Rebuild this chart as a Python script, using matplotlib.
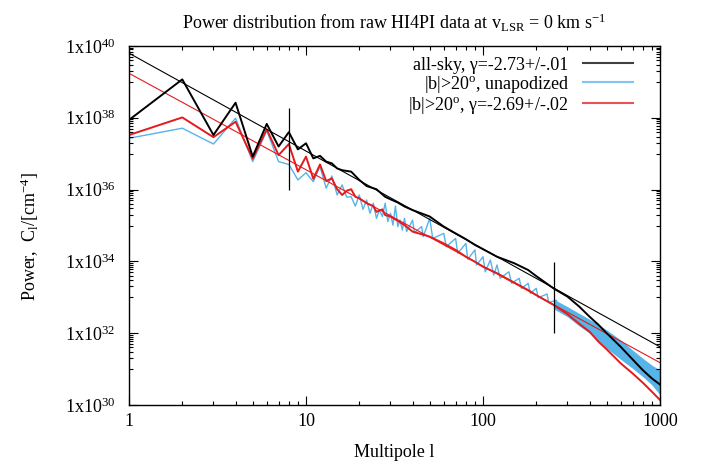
import numpy as np
import matplotlib
matplotlib.use("Agg")
import matplotlib.pyplot as plt
from matplotlib.ticker import FixedLocator, FuncFormatter, NullFormatter

plt.rcParams['font.family'] = ['Liberation Serif', 'DejaVu Serif']
plt.rcParams['mathtext.fontset'] = 'custom'
plt.rcParams['mathtext.rm'] = 'Liberation Serif'
plt.rcParams['mathtext.it'] = 'Liberation Serif:italic'
plt.rcParams['font.size'] = 13

# ---------------------------------------------------------------------------
# data (power given as log10)
# ---------------------------------------------------------------------------
allsky_l = [1, 2, 3, 4, 5, 6, 7, 8, 9, 10, 11, 12, 13, 14, 15, 16, 18, 20, 22, 25,
            28, 30, 33, 36, 40, 50, 60, 70, 80, 90, 100, 120, 150, 180, 200, 250,
            300, 350, 400, 450, 500, 600, 700, 800, 900, 1000]
allsky_log = [37.94, 39.07, 37.52, 38.42, 36.92, 37.83, 37.20, 37.60, 37.12, 37.29,
              36.87, 36.94, 36.78, 36.73, 36.59, 36.54, 36.50, 36.27, 36.10, 36.01,
              35.80, 35.73, 35.64, 35.53, 35.43, 35.25, 34.97, 34.78, 34.62, 34.46,
              34.34, 34.13, 33.95, 33.76, 33.59, 33.25, 33.02, 32.74, 32.46, 32.23,
              32.00, 31.62, 31.27, 30.97, 30.74, 30.57]

apod_l = [1, 2, 3, 4, 5, 6, 7, 8, 9, 10, 11, 12, 13, 14, 15, 16, 17, 18, 19, 20,
          22, 24, 25, 27, 28, 30, 33, 36, 40, 50, 60, 70, 80, 90, 100, 120, 150,
          180, 200, 250, 300, 350, 400, 450, 500, 600, 700, 800, 900, 1000]
apod_log = [37.52, 38.01, 37.46, 37.89, 36.86, 37.68, 36.96, 37.27, 36.50, 36.92,
            36.30, 36.70, 36.24, 36.31, 36.01, 35.85, 35.97, 36.01, 35.80, 35.76,
            35.62, 35.54, 35.38, 35.45, 35.29, 35.25, 35.13, 35.01, 34.83, 34.69,
            34.50, 34.32, 34.13, 33.99, 33.85, 33.67, 33.41, 33.20, 33.06, 32.79,
            32.53, 32.26, 32.04, 31.76, 31.55, 31.16, 30.88, 30.62, 30.37, 30.14]

unapod_l = [1, 2, 3, 4, 5, 6, 7, 8, 9, 10, 11, 12, 13, 14, 15, 16, 17, 18, 19, 20,
            21, 22, 23, 24, 25, 26, 27, 28, 29, 30, 31, 32, 33, 34, 35, 36, 37, 40,
            41, 45, 46, 50, 52, 60, 62, 70, 72, 80, 82, 90, 92, 100, 103, 110, 115,
            120, 125, 140, 145, 160, 165, 180, 185, 200, 205, 230, 235, 260, 265, 300]
unapod_log = [37.43, 37.71, 37.27, 37.99, 36.78, 37.64, 36.78, 36.70, 36.27, 36.47,
              36.22, 36.64, 36.04, 36.38, 35.85, 36.13, 35.79, 35.80, 35.54, 35.85,
              35.45, 35.71, 35.34, 35.62, 35.20, 35.43, 35.25, 35.62, 35.11, 35.34,
              35.01, 35.54, 34.97, 35.15, 34.87, 35.20, 34.83, 35.15, 34.80, 34.97,
              34.69, 35.20, 34.64, 34.78, 34.41, 34.64, 34.23, 34.50, 34.06, 34.32,
              33.90, 34.13, 33.71, 34.04, 33.62, 33.90, 33.53, 33.71, 33.39, 33.53,
              33.25, 33.39, 33.11, 33.25, 32.99, 33.09, 32.85, 32.92, 32.69, 32.69]

# high-l part of the unapodized spectrum oscillates so fast it looks like a band
band_l = [250, 300, 350, 400, 500, 600, 700, 800, 900, 1000]
band_hi = [32.95, 32.74, 32.55, 32.39, 32.09, 31.81, 31.53, 31.30, 31.11, 30.97]
band_lo = [32.68, 32.46, 32.20, 32.00, 31.58, 31.27, 31.02, 30.79, 30.56, 30.28]

# power-law fits (end points)
fit_l = [1, 1000]
allsky_fit_log = [39.80, 31.62]
apod_fit_log = [39.24, 31.18]

# vertical markers of the fit range
range_l = [8, 252]
range_lo = [35.99, 32.00]
range_hi = [38.26, 33.97]

# axis ticks
x_major = [1, 10, 100, 1000]
y_major_exp = [30, 32, 34, 36, 38, 40]

c_black = 'black'
c_blue = '#56b4e9'
c_red = '#e41a1c'

pw = lambda v: 10.0 ** np.asarray(v)

# ---------------------------------------------------------------------------
# plot
# ---------------------------------------------------------------------------
fig = plt.figure(figsize=(7.13, 4.67), dpi=100)
ax = fig.add_axes([129 / 713, 1 - 405 / 467, 531 / 713, 359 / 467])

ax.fill_between(band_l, pw(band_lo), pw(band_hi), color=c_blue, lw=0, zorder=1)
ax.plot(unapod_l, pw(unapod_log), color=c_blue, lw=1.0, zorder=1,
        label='|b|>20$^{\\rm o}$, unapodized')
ax.plot(apod_l, pw(apod_log), color=c_red, lw=1.4, zorder=2)
ax.plot(fit_l, pw(apod_fit_log), color=c_red, lw=0.8, zorder=2,
        label='|b|>20$^{\\rm o}$, \u03b3=-2.69+/-.02')
ax.plot(allsky_l, pw(allsky_log), color=c_black, lw=1.4, zorder=3)
ax.plot(fit_l, pw(allsky_fit_log), color=c_black, lw=0.8, zorder=3,
        label='all-sky, \u03b3=-2.73+/-.01')
ax.vlines(range_l, pw(range_lo), pw(range_hi), color='black', lw=0.9, zorder=4)

ax.set_xscale('log')
ax.set_yscale('log')
ax.set_xlim(1, 1000)
ax.set_ylim(1e30, 1e40)

# minor ticks: 2..9 per decade on x, gnuplot-style 10..90 x 10^(2k) on y
x_minor = [m * d for d in x_major[:-1] for m in range(2, 10)]
y_minor = [m * 10.0 ** e for e in y_major_exp[:-1] for m in range(10, 100, 10)]

ax.xaxis.set_major_locator(FixedLocator(x_major))
ax.xaxis.set_minor_locator(FixedLocator(x_minor))
ax.xaxis.set_major_formatter(FuncFormatter(lambda v, p: '%d' % round(v)))
ax.xaxis.set_minor_formatter(NullFormatter())

ax.yaxis.set_major_locator(FixedLocator(pw(y_major_exp)))
ax.yaxis.set_minor_locator(FixedLocator(y_minor))
ax.yaxis.set_major_formatter(FuncFormatter(lambda v, p: '1x10$^{%d}$' % round(np.log10(v))))
ax.yaxis.set_minor_formatter(NullFormatter())

ax.tick_params(which='both', direction='in', top=True, right=True, width=0.8)
ax.tick_params(which='major', length=6.5)
ax.tick_params(which='minor', length=3.2)
ax.tick_params(axis='y', pad=10)
ax.tick_params(axis='x', pad=6)
for s in ax.spines.values():
    s.set_linewidth(1.0)

ax.set_title('Power distribution from raw HI4PI data at v$_{\\rm LSR}$ = 0 km s$^{-1}$',
             fontsize=13, pad=12)
ax.set_xlabel('Multipole l', labelpad=10)
ax.set_ylabel('Power,  C$_{\\rm l}$/[cm$^{-4}$]')
ax.yaxis.set_label_coords(-0.165, 0.47)

handles, labels = ax.get_legend_handles_labels()
order = [2, 0, 1]
leg = ax.legend([handles[i] for i in order], [labels[i] for i in order],
                loc='upper right', bbox_to_anchor=(0.962, 0.99), borderaxespad=0,
                frameon=False, markerfirst=False, handlelength=2.75, handletextpad=0.8,
                labelspacing=0.0, fontsize=13)
for line in leg.get_lines():
    line.set_linewidth(1.5)
    line.set_alpha(0.75)

fig.savefig('out.png', dpi=100)
